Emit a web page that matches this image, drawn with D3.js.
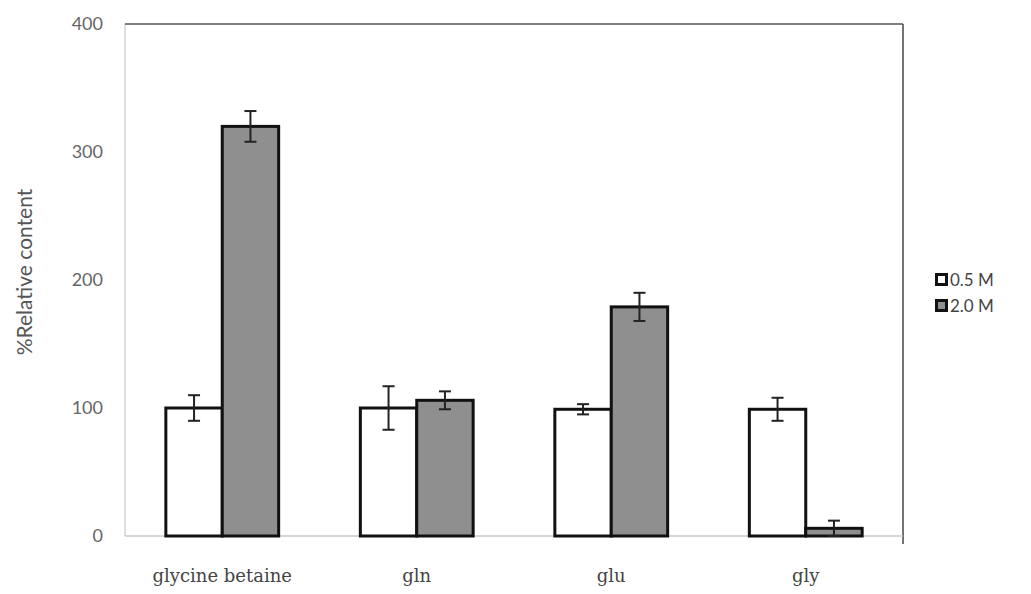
<!DOCTYPE html>
<html>
<head>
<meta charset="utf-8">
<script src="https://cdn.jsdelivr.net/npm/d3@7"></script>
<style>
  body { margin: 0; background: #fff; }
  svg { display: block; }
</style>
</head>
<body>
<div id="chart"></div>
<script>
// values
var categories = ['glycine betaine', 'gln', 'glu', 'gly'];
var seriesNames = ['0.5 M', '2.0 M'];
var low = [100, 100, 99, 99];       // 0.5 M
var lowErr = [10, 17, 4, 9];
var high = [320, 106, 179, 6];      // 2.0 M
var highErr = [12, 7, 11, 6];
var yTicks = [0, 100, 200, 300, 400];

var W = 1031, H = 594;
var margin = {top: 24, right: 128, bottom: 58, left: 125};

var svg = d3.select('#chart').append('svg')
    .attr('width', W)
    .attr('height', H);

var x = d3.scaleBand()
    .domain(categories)
    .range([margin.left, W - margin.right])
    .paddingInner(0.42)
    .paddingOuter(0.21);

var xs = d3.scaleBand()
    .domain(seriesNames)
    .range([0, x.bandwidth()]);

var y = d3.scaleLinear()
    .domain([0, 400])
    .range([H - margin.bottom, margin.top]);

var fills = {'0.5 M': '#ffffff', '2.0 M': '#8f8f8f'};

// plot frame: faint left/bottom, dark top/right
svg.append('line')
    .attr('x1', margin.left).attr('x2', margin.left)
    .attr('y1', y(400)).attr('y2', y(0))
    .attr('stroke', '#d4d4d4').attr('stroke-width', 1.5);
svg.append('line')
    .attr('x1', margin.left).attr('x2', W - margin.right)
    .attr('y1', y(400)).attr('y2', y(400))
    .attr('stroke', '#555').attr('stroke-width', 1.5);
svg.append('line')
    .attr('x1', W - margin.right).attr('x2', W - margin.right)
    .attr('y1', y(400)).attr('y2', y(0) + 8)
    .attr('stroke', '#444').attr('stroke-width', 1.5);

// y axis labels
var yAxis = d3.axisLeft(y).tickValues(yTicks).tickSize(0).tickPadding(22);
var ya = svg.append('g')
    .attr('transform', 'translate(' + margin.left + ',0)')
    .call(yAxis);
ya.select('.domain').remove();
ya.selectAll('text')
    .attr('fill', '#666')
    .style('font-family', 'Lato, "Open Sans", sans-serif')
    .style('font-size', '18px');

// bottom baseline
svg.append('line')
    .attr('x1', margin.left).attr('x2', W - margin.right)
    .attr('y1', y(0)).attr('y2', y(0))
    .attr('stroke', '#c8c8c8').attr('stroke-width', 1.5);

// x labels
var xa = svg.append('g')
    .attr('transform', 'translate(0,' + y(0) + ')')
    .call(d3.axisBottom(x).tickSize(0).tickPadding(33));
xa.select('.domain').remove();
xa.selectAll('text')
    .attr('fill', '#444')
    .style('font-family', '"DejaVu Serif", "Liberation Serif", serif')
    .style('font-size', '18px');

// y title
svg.append('text')
    .attr('transform', 'translate(32,' + (y(200) - 8) + ') rotate(-90)')
    .attr('text-anchor', 'middle')
    .attr('fill', '#555')
    .style('font-family', 'Lato, "Open Sans", sans-serif')
    .style('font-size', '21px')
    .text('%Relative content');

var rows = categories.map(function(c, i){
  return [
    {cat: c, s: seriesNames[0], v: low[i], e: lowErr[i]},
    {cat: c, s: seriesNames[1], v: high[i], e: highErr[i]}
  ];
});
var flat = d3.merge(rows);

// bars
svg.append('g').selectAll('rect')
    .data(flat)
    .enter()
    .append('rect')
    .attr('x', function(d){ return x(d.cat) + xs(d.s); })
    .attr('y', function(d){ return y(d.v); })
    .attr('width', xs.bandwidth())
    .attr('height', function(d){ return y(0) - y(d.v); })
    .attr('fill', function(d){ return fills[d.s]; })
    .attr('stroke', '#111')
    .attr('stroke-width', 3);

// error bars
var eb = svg.append('g').selectAll('g')
    .data(flat)
    .enter()
    .append('g')
    .attr('stroke', '#222')
    .attr('stroke-width', 2);
var cx = function(d){ return x(d.cat) + xs(d.s) + xs.bandwidth() / 2; };
eb.append('line')
    .attr('x1', cx).attr('x2', cx)
    .attr('y1', function(d){ return y(d.v + d.e); })
    .attr('y2', function(d){ return y(Math.max(0, d.v - d.e)); });
eb.append('line')
    .attr('x1', function(d){ return cx(d) - 6; })
    .attr('x2', function(d){ return cx(d) + 6; })
    .attr('y1', function(d){ return y(d.v + d.e); })
    .attr('y2', function(d){ return y(d.v + d.e); });
eb.append('line')
    .attr('x1', function(d){ return cx(d) - 6; })
    .attr('x2', function(d){ return cx(d) + 6; })
    .attr('y1', function(d){ return y(Math.max(0, d.v - d.e)); })
    .attr('y2', function(d){ return y(Math.max(0, d.v - d.e)); });

// legend
var legend = svg.append('g')
    .attr('transform', 'translate(' + (W - margin.right + 32) + ',' + y(200) + ')');
var li = legend.selectAll('g')
    .data(seriesNames)
    .enter()
    .append('g')
    .attr('transform', function(d, i){ return 'translate(0,' + (i * 26) + ')'; });
li.append('rect')
    .attr('x', 1.5).attr('y', -5.5)
    .attr('width', 10).attr('height', 10)
    .attr('fill', function(d){ return fills[d]; })
    .attr('stroke', '#111')
    .attr('stroke-width', 3);
li.append('text')
    .attr('x', 15)
    .attr('dy', '0.35em')
    .attr('fill', '#444')
    .style('font-family', 'Lato, "Open Sans", sans-serif')
    .style('font-size', '17px')
    .text(function(d){ return d; });
</script>
</body>
</html>
